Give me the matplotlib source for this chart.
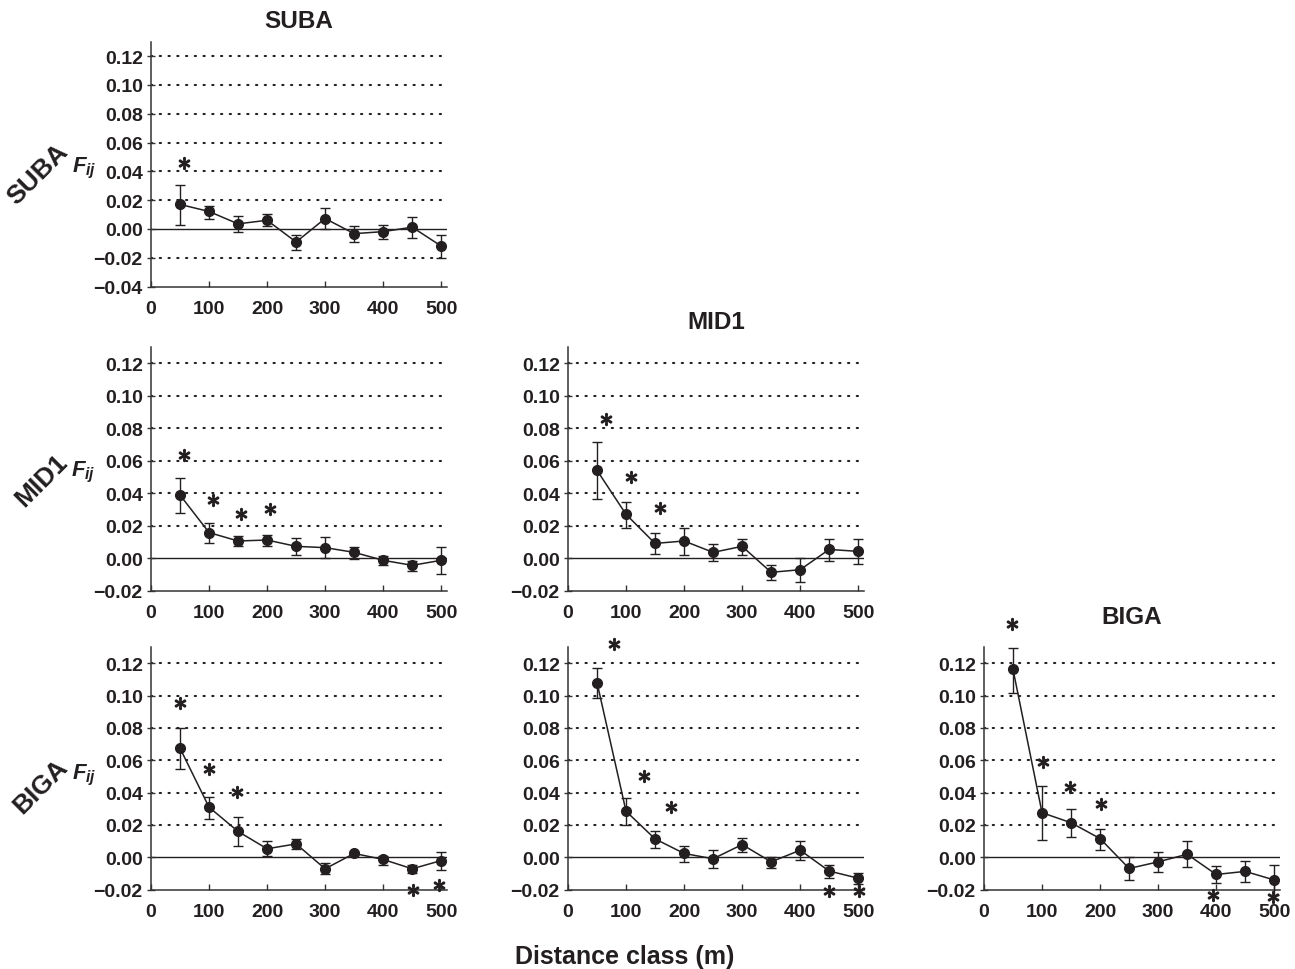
import matplotlib
matplotlib.use("Agg")
import matplotlib.pyplot as plt
from matplotlib.ticker import FuncFormatter, MultipleLocator

plt.rcParams['font.family'] = ['Liberation Sans', 'DejaVu Sans']
plt.rcParams['font.weight'] = 'bold'
plt.rcParams['mathtext.fontset'] = 'custom'
plt.rcParams['mathtext.rm'] = 'Liberation Sans:bold'
plt.rcParams['mathtext.it'] = 'Liberation Sans:italic:bold'
plt.rcParams['mathtext.bf'] = 'Liberation Sans:bold'

# ---------------- data ----------------
distance = [50, 100, 150, 200, 250, 300, 350, 400, 450, 500]
x_ticks = [0, 100, 200, 300, 400, 500]
populations = ["SUBA", "MID1", "BIGA"]
x_label = "Distance class (m)"
y_label = r"$F_{ij}$"

# SUBA x SUBA
suba_suba_fij = [0.0170, 0.0121, 0.0035, 0.0060, -0.0091, 0.0072, -0.0033, -0.0019, 0.0012, -0.0119]
suba_suba_hi = [0.0307, 0.0160, 0.0088, 0.0102, -0.0042, 0.0142, 0.0021, 0.0026, 0.0081, -0.0040]
suba_suba_lo = [0.0026, 0.0072, -0.0019, 0.0019, -0.0147, 0.0002, -0.0091, -0.0067, -0.0065, -0.0200]
suba_suba_star_x = [56]
suba_suba_star_y = [0.046]

# MID1 x SUBA
mid1_suba_fij = [0.0388, 0.0157, 0.0105, 0.0111, 0.0072, 0.0064, 0.0035, -0.0014, -0.0045, -0.0014]
mid1_suba_hi = [0.0495, 0.0214, 0.0136, 0.0144, 0.0124, 0.0128, 0.0068, 0.0010, -0.0016, 0.0070]
mid1_suba_lo = [0.0280, 0.0093, 0.0072, 0.0074, 0.0021, 0.0000, -0.0004, -0.0041, -0.0082, -0.0099]
mid1_suba_star_x = [56, 106, 155, 205]
mid1_suba_star_y = [0.0635, 0.0357, 0.0274, 0.0299]

# MID1 x MID1
mid1_mid1_fij = [0.0540, 0.0269, 0.0090, 0.0105, 0.0035, 0.0072, -0.0088, -0.0072, 0.0053, 0.0041]
mid1_mid1_hi = [0.0713, 0.0343, 0.0154, 0.0185, 0.0088, 0.0119, -0.0041, 0.0000, 0.0119, 0.0115]
mid1_mid1_lo = [0.0363, 0.0187, 0.0025, 0.0018, -0.0020, 0.0016, -0.0138, -0.0148, -0.0016, -0.0037]
mid1_mid1_star_x = [65, 109, 159]
mid1_mid1_star_y = [0.0856, 0.0497, 0.0306]

# BIGA x SUBA
biga_suba_fij = [0.0674, 0.0309, 0.0159, 0.0052, 0.0082, -0.0072, 0.0023, -0.0014, -0.0072, -0.0021]
biga_suba_hi = [0.0798, 0.0375, 0.0247, 0.0097, 0.0113, -0.0033, 0.0031, 0.0010, -0.0047, 0.0035]
biga_suba_lo = [0.0546, 0.0237, 0.0066, 0.0006, 0.0052, -0.0107, 0.0014, -0.0047, -0.0101, -0.0078]
biga_suba_star_x = [50, 100, 149, 451, 497]
biga_suba_star_y = [0.0955, 0.0546, 0.0406, -0.0206, -0.0171]

# BIGA x MID1
biga_mid1_fij = [0.1080, 0.0284, 0.0113, 0.0023, -0.0010, 0.0078, -0.0029, 0.0043, -0.0086, -0.0130]
biga_mid1_hi = [0.1169, 0.0364, 0.0163, 0.0068, 0.0043, 0.0117, 0.0000, 0.0099, -0.0047, -0.0099]
biga_mid1_lo = [0.0984, 0.0202, 0.0058, -0.0027, -0.0070, 0.0035, -0.0064, -0.0019, -0.0130, -0.0163]
biga_mid1_star_x = [80, 131, 178, 450, 502]
biga_mid1_star_y = [0.1319, 0.0504, 0.0309, -0.0210, -0.0210]

# BIGA x BIGA
biga_biga_fij = [0.1161, 0.0275, 0.0213, 0.0115, -0.0070, -0.0029, 0.0018, -0.0107, -0.0088, -0.0141]
biga_biga_hi = [0.1294, 0.0439, 0.0297, 0.0177, 0.0000, 0.0033, 0.0100, -0.0055, -0.0025, -0.0047]
biga_biga_lo = [0.1013, 0.0107, 0.0123, 0.0045, -0.0141, -0.0094, -0.0062, -0.0162, -0.0156, -0.0234]
biga_biga_star_x = [49, 101, 149, 201, 395, 498]
biga_biga_star_y = [0.1444, 0.0587, 0.0435, 0.0326, -0.0235, -0.0247]

# --------------- figure ----------------
W, H = 1295, 970
fig = plt.figure(figsize=(W / 100, H / 100), dpi=100)
ink = "#231f20"

def px_axes(left, top, right, bottom):
    return fig.add_axes([left / W, 1 - bottom / H, (right - left) / W, (bottom - top) / H])

panels = [
    # (row, col, fij, hi, lo, star_x, star_y, ymin, rect, title_pad)
    (0, 0, suba_suba_fij, suba_suba_hi, suba_suba_lo, suba_suba_star_x, suba_suba_star_y, -0.04, (151, 42.7, 447, 287.5), 10.5),
    (1, 0, mid1_suba_fij, mid1_suba_hi, mid1_suba_lo, mid1_suba_star_x, mid1_suba_star_y, -0.02, (151, 348, 447, 591.5), None),
    (1, 1, mid1_mid1_fij, mid1_mid1_hi, mid1_mid1_lo, mid1_mid1_star_x, mid1_mid1_star_y, -0.02, (568, 348, 864, 591.5), 13.5),
    (2, 0, biga_suba_fij, biga_suba_hi, biga_suba_lo, biga_suba_star_x, biga_suba_star_y, -0.02, (151, 648, 447, 890.5), None),
    (2, 1, biga_mid1_fij, biga_mid1_hi, biga_mid1_lo, biga_mid1_star_x, biga_mid1_star_y, -0.02, (568, 648, 864, 890.5), None),
    (2, 2, biga_biga_fij, biga_biga_hi, biga_biga_lo, biga_biga_star_x, biga_biga_star_y, -0.02, (984, 648, 1280, 890.5), 17.5),
]

def fmt(v, pos):
    s = "%.2f" % v
    if s == "-0.00":
        s = "0.00"
    return s.replace("-", "\u2212")

for row, col, fij, hi, lo, sx, sy, ymin, rect, tpad in panels:
    ax = px_axes(*rect)
    ymax = 0.13
    ax.set_xlim(0, 510)
    ax.set_ylim(ymin, ymax)
    ax.yaxis.set_major_locator(MultipleLocator(0.02))
    ax.yaxis.set_major_formatter(FuncFormatter(fmt))
    ax.set_xticks(x_ticks)
    ax.set_xticklabels([str(t) for t in x_ticks])
    for s in ("top", "right"):
        ax.spines[s].set_visible(False)
    for s in ("left", "bottom"):
        ax.spines[s].set_color("#333333")
        ax.spines[s].set_linewidth(1.1)
    ax.tick_params(axis="x", direction="in", length=4, width=1, colors="#333333",
                   labelcolor=ink, labelsize=14, pad=10)
    ax.tick_params(axis="y", direction="inout", length=6, width=1, colors="#333333",
                   labelcolor=ink, labelsize=14, pad=3)
    for lab in ax.get_xticklabels() + ax.get_yticklabels():
        lab.set_fontweight("bold")

    # grid lines: dotted except zero (solid)
    levels = []
    v = round(ymin + 0.02, 2)
    while v < ymax - 1e-9:
        levels.append(round(v, 2))
        v = round(v + 0.02, 2)
    for lv in levels:
        if abs(lv) < 1e-9:
            ax.axhline(0, color=ink, lw=1.0, zorder=1)
        else:
            ax.axhline(lv, color=ink, lw=1.5, linestyle=(0, (0.6, 3.6)),
                       dash_capstyle="round", zorder=1)

    yerr = [[f - l for f, l in zip(fij, lo)], [h - f for f, h in zip(fij, hi)]]
    ax.errorbar(distance, fij, yerr=yerr, color=ink, marker="o", ms=7, lw=1.1,
                elinewidth=1.0, capsize=3.5, capthick=1.0, zorder=3, clip_on=False)
    ax.plot(sx, sy, linestyle="none", marker=r"$\ast$", ms=8.5, color=ink,
            markeredgewidth=1.1, clip_on=False, zorder=4)

    if tpad is not None:
        ax.set_title(populations[col], fontsize=17.5, fontweight="bold", pad=tpad, color=ink)

# row labels
row_label_pos = [(38, 175), (41, 481), (41, 787)]
fij_pos = [(84, 168), (83, 472), (84, 775)]
for name, (x, y), (fx, fy) in zip(populations, row_label_pos, fij_pos):
    fig.text(x / W, 1 - y / H, name, rotation=45, ha="center", va="center",
             fontsize=19, fontweight="bold", color=ink, rotation_mode="anchor")
    fig.text(fx / W, 1 - fy / H, y_label, ha="center", va="center", fontsize=16, color=ink)

fig.text(625 / W, 1 - 957 / H, x_label, ha="center", va="center",
         fontsize=18, fontweight="bold", color=ink)

fig.savefig("out.png", dpi=100)
